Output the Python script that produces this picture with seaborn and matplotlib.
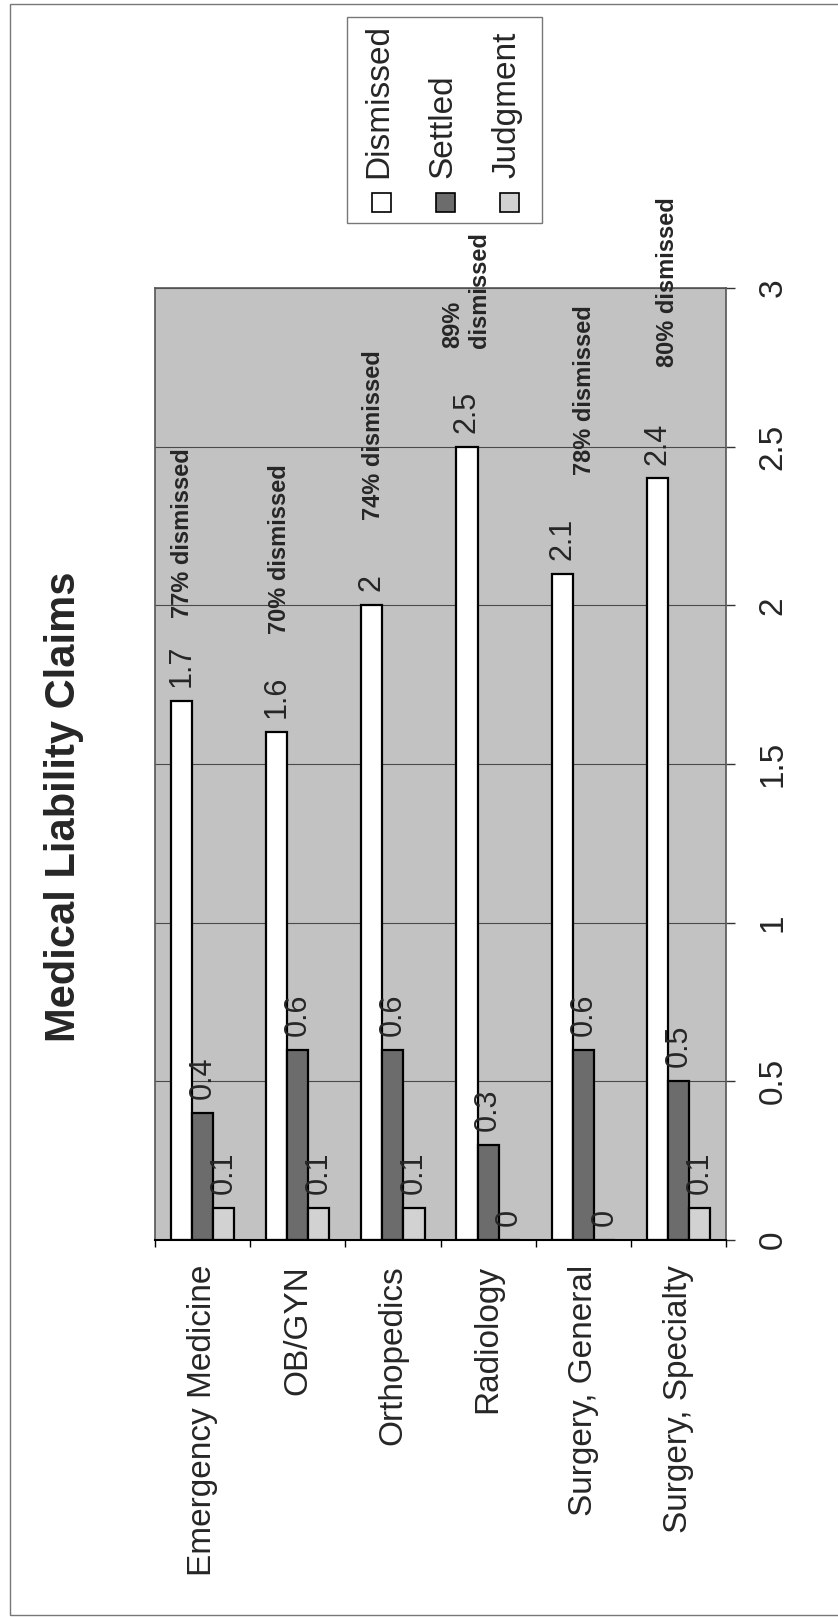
import numpy as np
import pandas as pd
import matplotlib
matplotlib.use("Agg")
import matplotlib.pyplot as plt
from matplotlib.patches import Rectangle
import seaborn as sns

# Chart data
specialties = ['Emergency Medicine', 'OB/GYN', 'Orthopedics', 'Radiology',
               'Surgery, General', 'Surgery, Specialty']
outcomes = ['Dismissed', 'Settled', 'Judgment']
dismissed = [1.7, 1.6, 2.0, 2.5, 2.1, 2.4]
settled = [0.4, 0.6, 0.6, 0.3, 0.6, 0.5]
judgment = [0.1, 0.1, 0.1, 0.0, 0.0, 0.1]
value_ticks = [0, 0.5, 1, 1.5, 2, 2.5, 3]
value_tick_labels = ['0', '0.5', '1', '1.5', '2', '2.5', '3']

# "% dismissed" notes: text, offset from category centre, value where the note starts
notes = ['77% dismissed', '70% dismissed', '74% dismissed', '89%\ndismissed',
         '78% dismissed', '80% dismissed']
note_dx = [-0.21, -0.19, -0.20, -0.23, 0.01, -0.11]
note_y = [1.96, 1.91, 2.27, 2.81, 2.41, 2.75]

colors = ['#ffffff', '#6c6c6c', '#d2d2d2']

df = pd.DataFrame({
    'specialty': specialties * 3,
    'outcome': [o for o in outcomes for _ in specialties],
    'claims': dismissed + settled + judgment,
})

sns.set_style('white')
plt.rcParams['font.family'] = ['Liberation Sans', 'DejaVu Sans']

W, H = 838, 1617
fig = plt.figure(figsize=(W / 100, H / 100), dpi=100)
fig.patch.set_facecolor('white')


def fx(px):
    return px / W


def fy(px):
    return (H - px) / H


# plot area (page is turned: bars grow upward, text reads bottom-to-top)
ax = fig.add_axes([fx(155), fy(1240), fx(726) - fx(155), fy(288) - fy(1240)])
ax.set_facecolor('#c2c2c2')

sns.barplot(data=df, x='specialty', y='claims', hue='outcome',
            order=specialties, hue_order=outcomes, palette=colors,
            saturation=1, width=0.666, edgecolor='black', linewidth=1.6,
            legend=False, ax=ax)

for cont in ax.containers:
    ax.bar_label(cont, fmt='%g', padding=10, rotation=90, fontsize=22)

for i, (txt, dx, yv) in enumerate(zip(notes, note_dx, note_y)):
    ax.text(i + dx, yv, txt, rotation=90, ha='center', va='bottom',
            fontsize=17, fontweight='bold', multialignment='left')

ax.set_xlim(-0.5, len(specialties) - 0.5)
ax.set_ylim(0, 3)
ax.set_xlabel('')
ax.set_ylabel('')

# value axis on the right
ax.yaxis.tick_right()
ax.set_yticks(value_ticks)
ax.set_yticklabels(value_tick_labels)
ax.tick_params(axis='y', which='major', right=True, left=False, direction='out',
               length=6.5, width=1, color='#333333', pad=16, labelsize=24,
               labelrotation=90)
for lbl in ax.get_yticklabels():
    lbl.set_va('center')
    lbl.set_ha('left')

# category axis: labels at centres, tick marks between groups
ax.set_xticks(range(len(specialties)))
ax.set_xticklabels(specialties, rotation=90, fontsize=24)
ax.set_xticks(np.arange(-0.5, len(specialties)), minor=True)
ax.tick_params(axis='x', which='major', length=0, pad=18)
ax.tick_params(axis='x', which='minor', bottom=True, direction='out',
               length=5, width=1, color='black')

ax.yaxis.grid(True, color='#4a4a4a', linewidth=0.8)
ax.xaxis.grid(False)
ax.set_axisbelow(True)
for side in ['top', 'right', 'left']:
    ax.spines[side].set_visible(True)
    ax.spines[side].set_color('#555555')
    ax.spines[side].set_linewidth(1.2)
ax.spines['bottom'].set_color('black')
ax.spines['bottom'].set_linewidth(1.5)

# title
fig.text(fx(64), fy(807), 'Medical Liability Claims', rotation=90,
         ha='center', va='center', fontsize=30, fontweight='bold')

# legend drawn by hand so it can be turned with the rest of the chart
fig.add_artist(Rectangle((fx(347), fy(223)), fx(542) - fx(347), fy(17) - fy(223),
                         transform=fig.transFigure, facecolor='white',
                         edgecolor='#777777', linewidth=1))
for k, (name, col) in enumerate(zip(outcomes, colors)):
    cx = 381 + 64 * k
    fig.add_artist(Rectangle((fx(cx - 9.5), fy(212)), fx(19), fy(193) - fy(212),
                             transform=fig.transFigure, facecolor=col,
                             edgecolor='black', linewidth=1.2))
    fig.text(fx(cx - 2), fy(178), name, rotation=90, ha='center', va='bottom',
             fontsize=24)

# chart border
fig.add_artist(Rectangle((fx(10), fy(1615)), 1, fy(4) - fy(1615),
                         transform=fig.transFigure, fill=False,
                         edgecolor='#777777', linewidth=1))

fig.savefig('out.png', dpi=100)
